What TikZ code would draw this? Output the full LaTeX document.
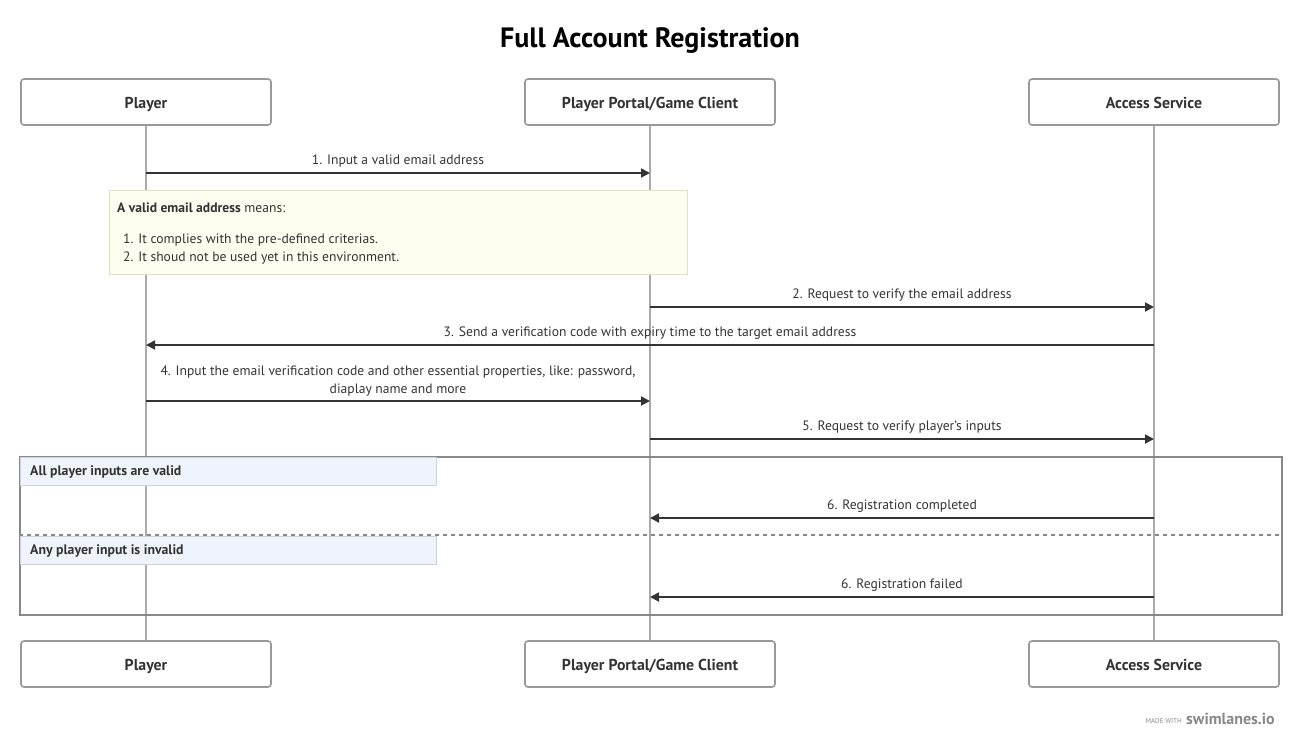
\documentclass[tikz,border=0pt]{standalone}
\usepackage{fontspec}
\setmainfont{PT Sans}
\usetikzlibrary{arrows.meta,positioning}
\definecolor{msgc}{HTML}{333333}
\definecolor{lifec}{HTML}{AAAAAA}
\definecolor{boxc}{HTML}{999999}
\definecolor{notefill}{HTML}{FEFDF0}
\definecolor{notedraw}{HTML}{E2DFCB}
\definecolor{secfill}{HTML}{EFF3FB}
\definecolor{secdraw}{HTML}{CED2DC}
\definecolor{framec}{HTML}{888888}
\definecolor{textc}{HTML}{333333}
\tikzset{
  x=1pt,y=-1pt,
  actor/.style={draw=boxc,line width=1.6pt,rounded corners=3pt,minimum width=250pt,minimum height=46pt,fill=white,font=\fontsize{15.8}{18}\selectfont\bfseries,text=textc,inner sep=0pt,text height=14pt,text depth=1pt},
  life/.style={draw=lifec,line width=2pt},
  msg/.style={draw=msgc,line width=1.8pt,-{Triangle[length=9pt,width=9pt]}},
  lbl/.style={font=\fontsize{13.6}{18}\selectfont,text=textc,inner sep=0pt,align=center},
  sec/.style={draw=secdraw,line width=0.8pt,fill=secfill,minimum width=416pt,minimum height=28pt,anchor=north west,inner sep=0pt},
  sectext/.style={font=\fontsize{13.8}{16}\selectfont\bfseries,text=textc,anchor=west,inner sep=0pt},
}
\begin{document}
\begin{tikzpicture}
\useasboundingbox (0,0) rectangle (1300,748);
\node[font=\fontsize{28}{30}\selectfont\bfseries,text=black] (title) at (650,41) {Full Account Registration};
% actors
\node[actor] (pT) at (146,102) {Player};
\node[actor] (gT) at (650,102) {Player Portal/Game Client};
\node[actor] (aT) at (1154,102) {Access Service};
\node[actor] (pB) at (146,664) {Player};
\node[actor] (gB) at (650,664) {Player Portal/Game Client};
\node[actor] (aB) at (1154,664) {Access Service};
% lifelines
\draw[life] (pT.south) -- (pB.north);
\draw[life] (gT.south) -- (gB.north);
\draw[life] (aT.south) -- (aB.north);
% coordinates on lifelines
\foreach \n/\y in {1/173,2/307,3/345,4/401,5/439,6/518,7/597}{
  \coordinate (p\n) at (146,\y);
  \coordinate (g\n) at (650,\y);
  \coordinate (a\n) at (1154,\y);
}
% message 1
\draw[msg] (p1) -- node[lbl,above=4.5pt] {1. Input a valid email address} (g1);
% note
\node[draw=notedraw,line width=0.8pt,fill=notefill,minimum width=578pt,minimum height=84pt,anchor=north west,inner sep=0pt] (note) at (109,190) {};
\node[lbl,anchor=west] (noteA) at (117,208) {\textbf{A valid email address} means:};
\node[lbl,anchor=west] (noteB) at (123,240) {1. It complies with the pre-defined criterias.};
\node[lbl,anchor=west] (noteC) at (123,258) {2. It shoud not be used yet in this environment.};
% messages 2-5
\draw[msg] (g2) -- node[lbl,above=4.5pt] {2. Request to verify the email address} (a2);
\draw[msg] (a3) -- node[lbl,above=4.5pt] {3. Send a verification code with expiry time to the target email address} (p3);
\draw[msg] (p4) -- node[lbl,above=4pt] {4. Input the email verification code and other essential properties, like: password,\\diaplay name and more} (g4);
\draw[msg] (g5) -- node[lbl,above=4.5pt] {5. Request to verify player's inputs} (a5);
% alt frame
\node[draw=framec,line width=1.6pt,minimum width=1262pt,minimum height=158pt,anchor=north west,inner sep=0pt] (frame) at (19,456) {};
\coordinate (dl) at (19,535);
\coordinate (dr) at (1281,535);
\draw[framec,line width=1.4pt,dash pattern=on 4pt off 4pt] (dl) -- (dr);
\node[sec] (s1) at (19.8,457) {};
\node[sectext] (s1t) at (30,472) {All player inputs are valid};
\node[sec] (s2) at (19.8,536) {};
\node[sectext] (s2t) at (30,551) {Any player input is invalid};
\draw[msg] (a6) -- node[lbl,above=4.5pt] {6. Registration completed} (g6);
\draw[msg] (a7) -- node[lbl,above=4.5pt] {6. Registration failed} (g7);
% footer
\node[font=\fontsize{7}{8}\selectfont,text=framec,anchor=east,inner sep=0pt] (made) at (1182,721.5) {MADE WITH};
\node[font=\fontsize{16}{18}\selectfont\bfseries,text=framec,anchor=west,inner sep=0pt] (sw) at (1186,719) {swimlanes.io};
\end{tikzpicture}
\end{document}
